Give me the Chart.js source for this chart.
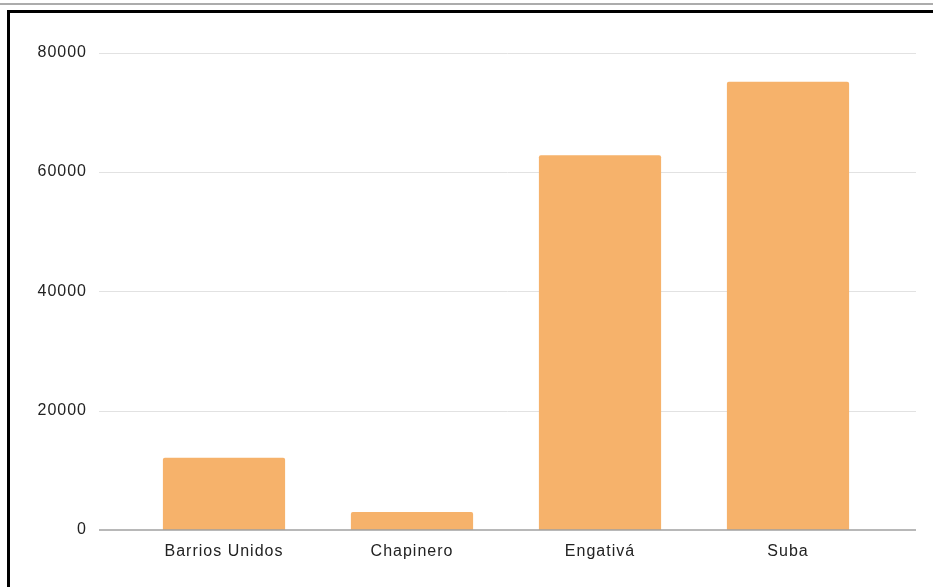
<!DOCTYPE html>
<html>
<head>
<meta charset="utf-8">
<script src="https://cdn.jsdelivr.net/npm/chart.js@4/dist/chart.umd.min.js"></script>
<style>
  html, body { margin: 0; padding: 0; background: #fff; }
  #wrap { position: relative; width: 933px; height: 587px; overflow: hidden; }
  #topline { position: absolute; left: 0; top: 3px; width: 933px; height: 2px; background: #acacac; }
  #frame { position: absolute; left: 7px; top: 10px; width: 940px; height: 600px;
           border-top: 3px solid #000; border-left: 3px solid #000; }
  #box { position: absolute; left: 0; top: 0; width: 933px; height: 587px; }
</style>
</head>
<body>
<div id="wrap">
  <div id="topline"></div>
  <div id="frame"></div>
  <div id="box"><canvas id="chart"></canvas></div>
</div>
<script>
// values
var districts = ['Barrios Unidos', 'Chapinero', 'Engativá', 'Suba'];
var values = [12100, 3000, 62800, 75100];
var yTicks = [0, 20000, 40000, 60000, 80000];

var barColor = 'rgb(246, 178, 107)';

// wide letter spacing like the original render
function spacing(chart) {
    chart.ctx.letterSpacing = '1px';
}

// horizontal grid lines run wider than the bar area
var gridPlugin = {
    id: 'wideGrid',
    beforeLayout: spacing,
    beforeDraw: spacing,
    beforeDatasetsDraw: function(chart) {
        let ctx = chart.ctx
        let y = chart.scales.y
        let left = chart.chartArea.left - 31
        let right = chart.chartArea.right + 34
        ctx.save()
        ctx.strokeStyle = '#e2e2e2'
        ctx.lineWidth = 1
        yTicks.forEach(function(v) {
            if (v === 0) return
            let py = Math.round(y.getPixelForValue(v)) + 0.5
            ctx.beginPath()
            ctx.moveTo(left, py)
            ctx.lineTo(right, py)
            ctx.stroke()
        })
        ctx.restore()
    },
    afterDatasetsDraw: function(chart) {
        let ctx = chart.ctx
        let py = chart.scales.y.getPixelForValue(0)
        ctx.save()
        ctx.strokeStyle = '#a0a0a0'
        ctx.lineWidth = 1.5
        ctx.beginPath()
        ctx.moveTo(chart.chartArea.left - 31, py)
        ctx.lineTo(chart.chartArea.right + 34, py)
        ctx.stroke()
        ctx.restore()
    }
};

new Chart(document.getElementById('chart'), {
    type: 'bar',
    data: {
        labels: districts,
        datasets: [{
            data: values,
            backgroundColor: barColor,
            borderWidth: 0,
            borderRadius: 2,
            borderSkipped: 'start',
            categoryPercentage: 1,
            barPercentage: 0.65
        }]
    },
    options: {
        responsive: true,
        maintainAspectRatio: false,
        animation: false,
        layout: { padding: { top: 52, right: 51, bottom: 0, left: 0 } },
        plugins: {
            legend: { display: false },
            tooltip: { enabled: false }
        },
        scales: {
            x: {
                grid: { display: false, drawTicks: false },
                border: { display: false },
                ticks: {
                    color: '#222',
                    padding: 12,
                    maxRotation: 0,
                    font: { family: 'Liberation Sans, Arial, sans-serif', size: 16 }
                },
                afterFit: function(s) { s.height = 57 }
            },
            y: {
                min: 0,
                max: 80000,
                grid: { display: false, drawTicks: false },
                border: { display: false },
                ticks: {
                    stepSize: 20000,
                    color: '#222',
                    padding: 43,
                    font: { family: 'Liberation Sans, Arial, sans-serif', size: 16 },
                    callback: function(v) { return String(v) }
                },
                afterFit: function(s) { s.width = 130 }
            }
        }
    },
    plugins: [gridPlugin]
});
</script>
</body>
</html>
